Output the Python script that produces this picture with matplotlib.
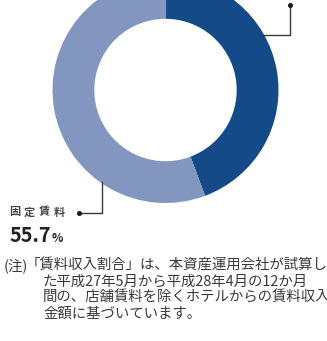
import matplotlib
matplotlib.use("Agg")
import matplotlib.pyplot as plt
from matplotlib.lines import Line2D

plt.rcParams['font.family'] = ['Noto Sans CJK JP', 'DejaVu Sans']

# Rent income breakdown
categories = ["変動賃料", "固定賃料"]
shares = [44.3, 55.7]
colors = ["#134a87", "#8296c0"]

note_mark = "(注)"
note_lines = [
    "「賃料収入割合」は、本資産運用会社が試算し",
    "た平成27年5月から平成28年4月の12か月",
    "間の、店舗賃料を除くホテルからの賃料収入",
    "金額に基づいています。",
]

W, H = 327, 341
fig = plt.figure(figsize=(W / 100, H / 100), dpi=100)
fig.patch.set_facecolor("white")

# donut axes: centre (165.5, 90) px from top, outer radius 113 px
cx, cy, r = 165.5, 90, 113
ax = fig.add_axes([(cx - r) / W, (H - cy - r) / H, 2 * r / W, 2 * r / H])
ax.pie(shares, colors=colors, startangle=90, counterclock=False,
       radius=1.0, wedgeprops=dict(width=0.37, linewidth=0))
ax.set_xlim(-1, 1)
ax.set_ylim(-1, 1)
ax.set_aspect("equal")
ax.axis("off")


def px(x, y):
    return x / W, 1 - y / H


# leader lines (figure pixel coordinates)
line_col = "#3a3a3a"
for pts, dot in [
    ([(290, 5), (290, 35), (262, 35)], (290, 5)),
    ([(102, 182), (102, 213), (79, 213)], (79, 213)),
]:
    xs, ys = zip(*[px(*p) for p in pts])
    fig.add_artist(Line2D(xs, ys, color=line_col, lw=1.0,
                          transform=fig.transFigure))
    dx, dy = px(*dot)
    fig.add_artist(Line2D([dx], [dy], marker="o", ms=2.6, color="#1a1a1a",
                          transform=fig.transFigure))

# fixed-rent label, letter-spaced
for i, ch in enumerate(categories[1]):
    fx, fy = px(9 + i * 14.8, 212)
    fig.text(fx, fy, ch, fontsize=8.0, color="#444444", fontweight="bold",
             ha="left", va="center")

vx, vy = px(9, 242)
t = fig.text(vx, vy, f"{shares[1]:.1f}", fontsize=14.3, color="#222222",
             ha="left", va="baseline", fontweight="bold")
fig.canvas.draw()
bb = t.get_window_extent()
fig.text((bb.x1 + 1) / W, vy, "%", fontsize=8.5, color="#222222",
         ha="left", va="baseline", fontweight="bold")

# note
mx, my = px(4, 266)
fig.text(mx, my, note_mark, fontsize=10.4, color="#3a3a3a",
         ha="left", va="center")
note_x = [26, 43, 43, 43]
note_y = [266, 282, 298, 314]
for s, x, y in zip(note_lines, note_x, note_y):
    tx, ty = px(x, y)
    fig.text(tx, ty, s, fontsize=10.4, color="#3a3a3a",
             ha="left", va="center")

fig.savefig("out.png", dpi=100, facecolor="white")
